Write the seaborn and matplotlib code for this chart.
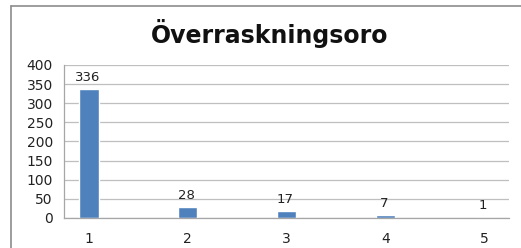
import numpy as np
import pandas as pd
import matplotlib
matplotlib.use("Agg")
import matplotlib.pyplot as plt
import seaborn as sns
from matplotlib.lines import Line2D
from matplotlib.ticker import MultipleLocator, FixedLocator

# chart data
categories = ["1", "2", "3", "4", "5"]
counts = [336, 28, 17, 7, 1]
title = "Överraskningsoro"

df = pd.DataFrame({"cat": categories, "n": counts})

sns.set_style("white")
plt.rcParams["font.family"] = ["DejaVu Sans"]

fig = plt.figure(figsize=(5.21, 2.48), dpi=100)
ax = fig.add_axes([0.1228, 0.121, 0.977 - 0.1228, 0.738 - 0.121])

sns.barplot(data=df, x="cat", y="n", color="#4F81BD", saturation=1, width=0.2, ax=ax)

for i, v in enumerate(counts):
    ax.annotate(str(v), (i, v), xytext=(-1, 4), textcoords="offset points",
                ha="center", va="bottom", fontsize=9.5, color="#222222")

ax.set_xlim(-0.25, 4.25)
ax.set_ylim(0, 400)
ax.yaxis.set_major_locator(MultipleLocator(50))
ax.grid(axis="y", color="#bfbfbf", linewidth=0.9)
ax.set_axisbelow(True)
ax.set_xlabel("")
ax.set_ylabel("")

for s in ["top", "right"]:
    ax.spines[s].set_visible(False)
for s in ["left", "bottom"]:
    ax.spines[s].set_color("#a6a6a6")
    ax.spines[s].set_linewidth(0.9)

ax.tick_params(axis="x", which="major", length=0, pad=10, labelsize=10, labelcolor="#222222")
ax.xaxis.set_minor_locator(FixedLocator(np.arange(-0.25, 4.3, 0.5)))
ax.tick_params(axis="x", which="minor", length=4, color="#a6a6a6", direction="out")
ax.tick_params(axis="y", length=5, color="#a6a6a6", labelsize=10, labelcolor="#222222", pad=3)

fig.text(0.518, 0.865, title, ha="center", va="center", fontsize=17,
         fontweight="bold", color="#111111")

# outer chart border (left and top edges visible)
fig.add_artist(Line2D([11 / 521, 11 / 521], [0, 1 - 6 / 248], transform=fig.transFigure,
                      color="#8c8c8c", linewidth=1.2))
fig.add_artist(Line2D([11 / 521, 1], [1 - 6 / 248, 1 - 6 / 248], transform=fig.transFigure,
                      color="#8c8c8c", linewidth=1.2))

fig.savefig("out.png", dpi=100)
